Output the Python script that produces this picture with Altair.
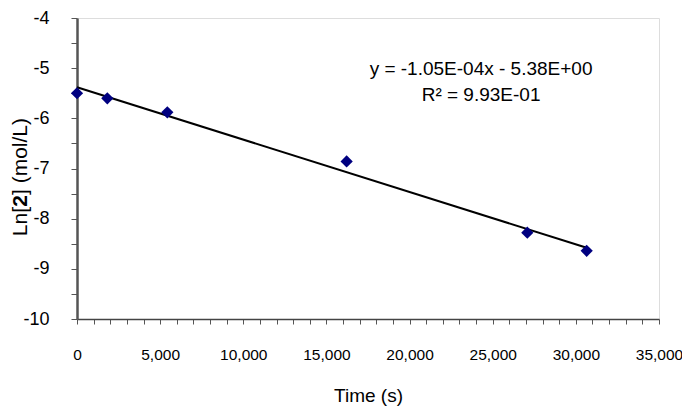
import altair as alt
import pandas as pd

# data
time_s = [0, 1823, 5432, 16215, 27080, 30650]
ln_conc = [-5.50, -5.60, -5.88, -6.86, -8.28, -8.64]

eq_lines = ["y = -1.05E-04x - 5.38E+00", "R\u00b2 = 9.93E-01"]
eq_x = [24300, 24300]
eq_y = [-5.02, -5.535]

x_ticks = list(range(0, 35001, 1000))
y_ticks = [v / 2 for v in range(-20, -7)]

FONT = "Liberation Sans"
FS = 19

df = pd.DataFrame({"t": time_s, "ln": ln_conc})
eq_df = pd.DataFrame({"label": eq_lines, "x": eq_x, "y": eq_y})

xscale = alt.Scale(domain=[0, 35000], nice=False, zero=False)
yscale = alt.Scale(domain=[-10, -4], nice=False, zero=False)

xax = alt.Axis(
    values=x_ticks, tickCount=100,
    labelExpr="datum.value % 5000 == 0 ? format(datum.value, ',') : ''",
    grid=False, tickSize=5, tickColor="#555555", domainColor="#444444",
    domainWidth=1.5, labelPadding=23, labelFont=FONT, labelFontSize=15.5,
    labelColor="black", title="Time (s)", titleFont=FONT, titleFontSize=FS,
    titleFontWeight="normal", titleColor="black", titlePadding=24,
    labelFlush=False, labelOverlap=False,
)
yax = alt.Axis(
    values=y_ticks, tickCount=100,
    labelExpr="datum.value % 1 == 0 ? '' + datum.value : ''",
    grid=False, tickSize=6, tickColor="#555555", domainColor="#555555",
    domainWidth=2.5, labelPadding=22, labelFont=FONT, labelFontSize=18,
    labelColor="black", title=None, labelOverlap=False,
)

base = alt.Chart(df)

points = base.mark_point(shape="diamond", filled=True, size=150, color="#000080", opacity=1).encode(
    x=alt.X("t:Q", scale=xscale, axis=xax),
    y=alt.Y("ln:Q", scale=yscale, axis=yax),
)

trend = base.transform_regression("t", "ln").mark_line(color="black", strokeWidth=2).encode(
    x=alt.X("t:Q", scale=xscale, axis=xax),
    y=alt.Y("ln:Q", scale=yscale, axis=yax),
)

eq = alt.Chart(eq_df).mark_text(font=FONT, fontSize=FS, color="black", align="center", baseline="middle").encode(
    x=alt.X("x:Q", scale=xscale, axis=xax),
    y=alt.Y("y:Q", scale=yscale, axis=yax),
    text="label:N",
)

# y-axis title with bold "2"
TFS = 21
tdf = pd.DataFrame({"a": [0]})
t1 = alt.Chart(tdf).mark_text(font=FONT, fontSize=TFS, angle=270, align="right", baseline="middle", color="black").encode(
    x=alt.value(-56), y=alt.value(189), text=alt.value("Ln["))
t2 = alt.Chart(tdf).mark_text(font=FONT, fontSize=TFS, fontWeight="bold", angle=270, align="center", baseline="middle", color="black").encode(
    x=alt.value(-56), y=alt.value(183), text=alt.value("2"))
t3 = alt.Chart(tdf).mark_text(font=FONT, fontSize=TFS, angle=270, align="left", baseline="middle", color="black").encode(
    x=alt.value(-56), y=alt.value(177), text=alt.value("] (mol/L)"))

chart = alt.layer(trend, points, eq, t1, t2, t3).properties(
    width=582, height=301,
    autosize=alt.AutoSizeParams(type="none"),
    padding={"left": 69, "top": 10, "right": 23, "bottom": 92},
).configure_view(stroke="#999999", strokeWidth=2.5).configure(background="white")

chart.save("out.html", embed_options={"renderer": "svg", "actions": False})
